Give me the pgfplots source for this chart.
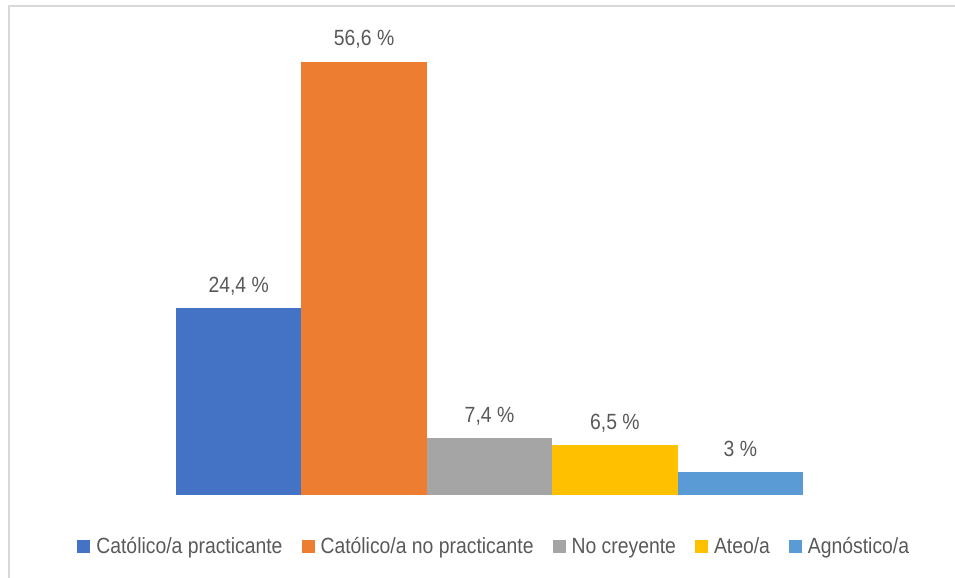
\documentclass[border=0pt]{standalone}
\usepackage{fontspec}
\setmainfont{Liberation Sans}[FakeStretch=0.88]
\usepackage{pgfplots}
\pgfplotsset{compat=1.18}
\definecolor{cBlue}{HTML}{4472C4}
\definecolor{cOrange}{HTML}{ED7D31}
\definecolor{cGray}{HTML}{A5A5A5}
\definecolor{cYellow}{HTML}{FFC000}
\definecolor{cLBlue}{HTML}{5B9BD5}
\definecolor{txt}{HTML}{595959}
\definecolor{frame}{HTML}{D9D9D9}
\begin{document}
\begin{tikzpicture}
\path[use as bounding box] (-176bp,-83bp) rectangle (779bp,495bp);
\draw[frame, line width=2bp] (-166.5bp,-83bp) -- (-166.5bp,488.5bp) -- (779bp,488.5bp);
\begin{axis}[
  at={(0,0)}, anchor=south west,
  scale only axis, width=627bp, height=433bp,
  xmin=-0.5, xmax=4.5, ymin=0, ymax=56.6,
  axis line style={draw=none}, ticks=none,
  clip=false,
  point meta=explicit symbolic,
  nodes near coords,
  every node near coord/.append style={anchor=base, yshift=16bp, inner sep=0pt, text=txt, font=\fontsize{22bp}{26bp}\selectfont},
  legend columns=-1,
  legend style={draw=none, at={(0.506,-0.1178)}, anchor=center, fill=none,
    font=\fontsize{22bp}{26bp}\selectfont, text=txt,
    nodes={inner sep=0pt, text height=20.8bp, text depth=5bp},
    /tikz/every even column/.append style={column sep=19bp},
    /tikz/every odd column/.append style={column sep=6bp}},
  legend image code/.code={\fill[#1] (0bp,-6.5bp) rectangle (13bp,6.5bp);},
]
\addplot[ybar, bar width=1, bar shift=0, fill=cBlue, draw=none] coordinates {(0,24.4) [24,4 \%]};
\addlegendentry{Católico/a practicante}
\addplot[ybar, bar width=1, bar shift=0, fill=cOrange, draw=none] coordinates {(1,56.6) [56,6 \%]};
\addlegendentry{Católico/a no practicante}
\addplot[ybar, bar width=1, bar shift=0, fill=cGray, draw=none] coordinates {(2,7.4) [7,4 \%]};
\addlegendentry{No creyente}
\addplot[ybar, bar width=1, bar shift=0, fill=cYellow, draw=none] coordinates {(3,6.5) [6,5 \%]};
\addlegendentry{Ateo/a}
\addplot[ybar, bar width=1, bar shift=0, fill=cLBlue, draw=none] coordinates {(4,3) [3 \%]};
\addlegendentry{Agnóstico/a}
\end{axis}
\end{tikzpicture}
\end{document}
